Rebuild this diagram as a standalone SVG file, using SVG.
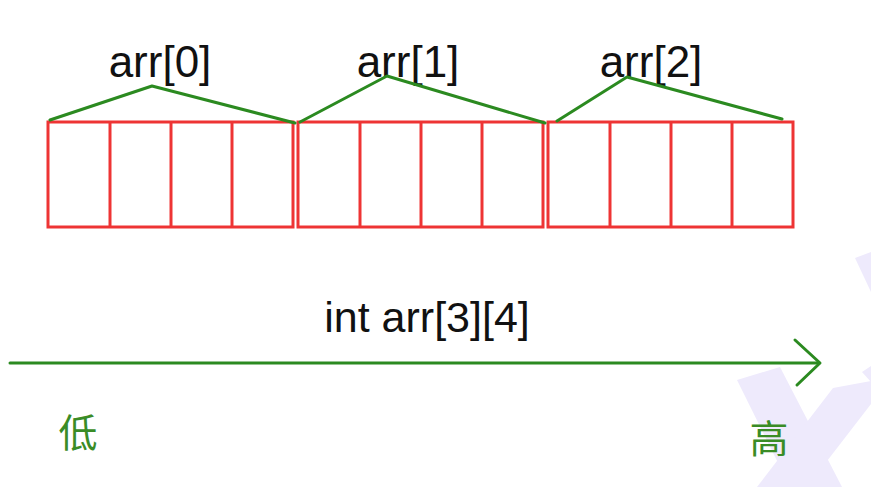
<svg xmlns="http://www.w3.org/2000/svg" width="871" height="487" viewBox="0 0 871 487">
  <style>
    .cell { fill: none; stroke: #ee3434; stroke-width: 3; }
    .conn { fill: none; stroke: #2b8a20; stroke-width: 3; stroke-linejoin: round; stroke-linecap: round; }
    .lbl { font-family: "Liberation Sans", Arial, sans-serif; font-size: 44px; fill: #111; text-anchor: middle; }
    .decl { font-size: 43px; }
    .cjk { font-family: "Noto Sans CJK SC", "Noto Sans CJK JP", sans-serif; font-size: 39px; fill: #3a8c26; text-anchor: middle; }
    .wm { fill: #eeeafc; }
  </style>
  <rect width="871" height="487" fill="#ffffff"/>
  <g id="watermark">
    <polygon class="wm" points="855,258 871,252 871,292"/>
    <polygon class="wm" points="862,372 871,366 871,382"/>
    <polygon class="wm" points="737,380 780,367 842,487 790,487"/>
    <polygon class="wm" points="833,388 871,381 871,404 807,487 757,487"/>
  </g>
  <g id="block0">
    <rect class="cell" x="48" y="122" width="245" height="105"/>
    <line class="cell" x1="110" y1="122" x2="110" y2="227"/>
    <line class="cell" x1="171" y1="122" x2="171" y2="227"/>
    <line class="cell" x1="232" y1="122" x2="232" y2="227"/>
  </g>
  <g id="block1">
    <rect class="cell" x="298" y="122" width="245" height="105"/>
    <line class="cell" x1="360" y1="122" x2="360" y2="227"/>
    <line class="cell" x1="421" y1="122" x2="421" y2="227"/>
    <line class="cell" x1="482" y1="122" x2="482" y2="227"/>
  </g>
  <g id="block2">
    <rect class="cell" x="548" y="122" width="245" height="105"/>
    <line class="cell" x1="610" y1="122" x2="610" y2="227"/>
    <line class="cell" x1="671" y1="122" x2="671" y2="227"/>
    <line class="cell" x1="732" y1="122" x2="732" y2="227"/>
  </g>
  <g id="label-arr0"><text class="lbl" x="160" y="77">arr[0]</text></g>
  <g id="label-arr1"><text class="lbl" x="408" y="77">arr[1]</text></g>
  <g id="label-arr2"><text class="lbl" x="651" y="77">arr[2]</text></g>
  <g id="label-decl"><text class="lbl decl" x="427" y="332">int arr[3][4]</text></g>
  <g id="label-low"><text class="cjk" x="78" y="447">低</text></g>
  <g id="label-high"><text class="cjk" x="769" y="453">高</text></g>
  <g id="connectors">
    <polyline class="conn" points="50,120 152,86 295,123"/>
    <polyline class="conn" points="300,122 387,76 545,123"/>
    <polyline class="conn" points="557,121 627,77 782,119"/>
    <line class="conn" x1="10" y1="363" x2="819" y2="363"/>
    <polyline class="conn" points="795,340 820,363 797,385"/>
  </g>
</svg>
